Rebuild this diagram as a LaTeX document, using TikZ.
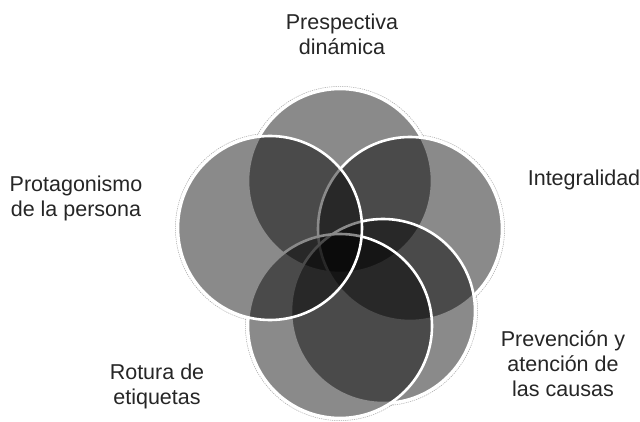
\documentclass[tikz,border=0pt]{standalone}
\usepackage{fontspec}
\setmainfont{Liberation Sans}
\begin{document}
\begin{tikzpicture}[x=1pt,y=-1pt,
  lbl/.style={align=center, inner sep=0pt, font=\fontsize{21.5}{25}\selectfont, text=black!85},
  ring/.style={draw=white, line width=2.6pt},
  disc/.style={fill=black, fill opacity=0.46},
  halo/.style={draw=black!35, line width=0.5pt, dash pattern=on 1.2pt off 1pt},
]
\useasboundingbox (0,0) rectangle (640,422);
\fill[white] (0,0) rectangle (640,422);
\coordinate (cT) at (340,181);
\coordinate (cR) at (410,229);
\coordinate (cP) at (383,311);
\coordinate (cB) at (340,326);
\coordinate (cL) at (270,228);
\foreach \c in {cT,cR,cP,cB,cL} \draw[halo] (\c) circle (94.6pt);
\foreach \c in {cT,cR,cP,cB,cL} \fill[white] (\c) circle (93.4pt);
\foreach \c in {cT,cR,cP,cB,cL} {
  \fill[disc] (\c) circle (92pt);
  \draw[ring] (\c) circle (92pt);
}
\node[lbl] (tT) at (342,34.5) {Prespectiva\\dinámica};
\node[lbl] (tL) at (76,198.5) {Protagonismo\\de la persona};
\node[lbl] (tR) at (584,180) {Integralidad};
\node[lbl] (tP) at (563,364) {Prevención y\\atención de\\las causas};
\node[lbl] (tB) at (157,386.5) {Rotura de\\etiquetas};
\end{tikzpicture}
\end{document}
